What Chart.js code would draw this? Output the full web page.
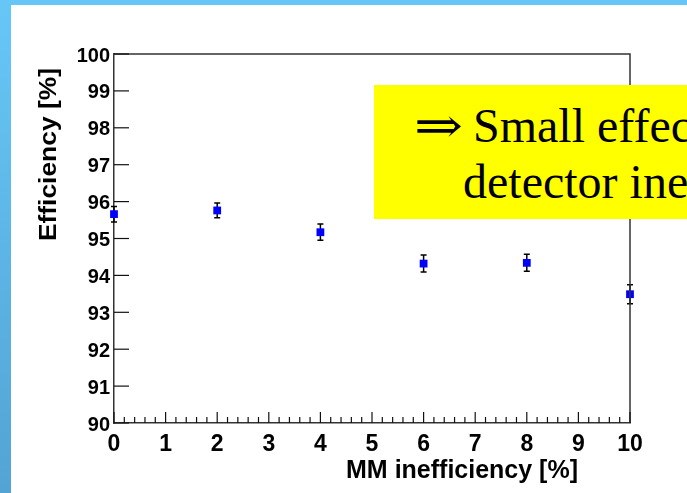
<!DOCTYPE html>
<html>
<head>
<meta charset="utf-8">
<script src="https://cdn.jsdelivr.net/npm/chart.js@4/dist/chart.umd.min.js"></script>
<style>
  html, body { margin: 0; padding: 0; background: #ffffff; overflow: hidden; }
  #wrap { position: relative; width: 687px; height: 493px; }
  #c { position: absolute; left: 0; top: 0; }
  #topbar { position: absolute; left: 0; top: 0; width: 687px; height: 5px; background: #66c7f6; }
  #leftbar { position: absolute; left: 0; top: 0; width: 11px; height: 493px;
             background: linear-gradient(to bottom, #66c7f6, #52a4d4); }
  #note { position: absolute; left: 374px; top: 85px; width: 313px; height: 134px;
          background: #ffff00; overflow: hidden; white-space: nowrap;
          font-family: "Liberation Serif", "DejaVu Serif", serif; font-size: 48px; line-height: 48px; color: #000; }
  #note .arr { position: absolute; left: 40px; top: 17px; display: inline-block; transform: scaleX(1.22); transform-origin: left center; }
  #note .l1 { position: absolute; left: 99px; top: 17px; }
  #note .l2 { position: absolute; left: 89px; top: 73px; }
</style>
</head>
<body>
<div id="wrap">
  <canvas id="c" width="687" height="493"></canvas>
  <div id="topbar"></div>
  <div id="leftbar"></div>
  <div id="note"><span class="arr">⇒</span><span class="l1">Small effec</span><span class="l2">detector ine</span></div>
</div>
<script>
// ---- data ----
const mmInefficiency = [0, 2, 4, 6, 8, 10];
const efficiency     = [95.66, 95.76, 95.17, 94.32, 94.34, 93.49];
const efficiencyErr  = [0.21, 0.20, 0.22, 0.23, 0.23, 0.26];
const xTitle = "MM inefficiency [%]";
const yTitle = "Efficiency [%]";
const xRange = [0, 10];
const yRange = [90, 100];

const points = mmInefficiency.map((x, i) => ({ x: x, y: efficiency[i] }));

const AXIS_COLOR = '#333333';
const FAMILY = 'Liberation Sans, Arial, sans-serif';

const frameAndTicks = {
  id: 'frameAndTicks',
  afterDraw(chart) {
    const ctx = chart.ctx, a = chart.chartArea;
    const xs = chart.scales.x, ys = chart.scales.y;
    ctx.save();
    ctx.strokeStyle = AXIS_COLOR;
    ctx.lineWidth = 1.5;
    ctx.beginPath();
    ctx.moveTo(a.left, a.top); ctx.lineTo(a.right, a.top); ctx.lineTo(a.right, a.bottom);
    ctx.stroke();
    ctx.lineWidth = 1.2;
    ctx.strokeStyle = '#111111';
    ys.ticks.forEach(t => {
      const py = ys.getPixelForValue(t.value);
      ctx.beginPath(); ctx.moveTo(a.left, py); ctx.lineTo(a.left + 15, py); ctx.stroke();
    });
    const xt = xs.ticks.map(t => t.value);
    for (let k = 0; k < xt.length; k++) {
      const px = xs.getPixelForValue(xt[k]);
      ctx.beginPath(); ctx.moveTo(px, a.bottom); ctx.lineTo(px, a.bottom - 11); ctx.stroke();
      if (k < xt.length - 1) {
        const step = (xt[k + 1] - xt[k]) / 5;
        for (let m = 1; m < 5; m++) {
          const mx = xs.getPixelForValue(xt[k] + m * step);
          ctx.beginPath(); ctx.moveTo(mx, a.bottom); ctx.lineTo(mx, a.bottom - 6); ctx.stroke();
        }
      }
    }
    // axis titles
    ctx.fillStyle = '#000';
    ctx.font = 'bold 25px "Liberation Sans", Arial, sans-serif';
    ctx.textAlign = 'right';
    ctx.textBaseline = 'alphabetic';
    ctx.fillText(xTitle, a.right - 52, 478);
    ctx.font = 'bold 24px "Liberation Sans", Arial, sans-serif';
    ctx.translate(56, a.top + 14);
    ctx.rotate(-Math.PI / 2);
    ctx.scale(1.1, 1);
    ctx.fillText(yTitle, 0, 0);
    ctx.restore();
  }
};

const errorBars = {
  id: 'errorBars',
  beforeDatasetsDraw(chart) {
    const ctx = chart.ctx;
    const xs = chart.scales.x, ys = chart.scales.y;
    ctx.save();
    ctx.strokeStyle = '#000';
    ctx.lineWidth = 1.5;
    mmInefficiency.forEach((x, i) => {
      const px = xs.getPixelForValue(x);
      const lo = ys.getPixelForValue(efficiency[i] - efficiencyErr[i]);
      const hi = ys.getPixelForValue(efficiency[i] + efficiencyErr[i]);
      ctx.beginPath();
      ctx.moveTo(px, lo); ctx.lineTo(px, hi);
      ctx.moveTo(px - 3, lo); ctx.lineTo(px + 3, lo);
      ctx.moveTo(px - 3, hi); ctx.lineTo(px + 3, hi);
      ctx.stroke();
    });
    ctx.restore();
  }
};

new Chart(document.getElementById('c'), {
  type: 'scatter',
  data: {
    datasets: [{
      label: yTitle,
      data: points,
      pointStyle: 'rect',
      pointRadius: 5.5,
      pointHoverRadius: 5.5,
      backgroundColor: '#0000ff',
      borderColor: '#0000ff',
      borderWidth: 0,
      clip: false
    }]
  },
  options: {
    responsive: false,
    animation: false,
    events: [],
    layout: { padding: { left: 0, top: 54, right: 57, bottom: 0 } },
    plugins: { legend: { display: false }, tooltip: { enabled: false } },
    scales: {
      x: {
        type: 'linear',
        min: xRange[0], max: xRange[1],
        ticks: { stepSize: 1, font: { family: FAMILY, size: 23, weight: 'bold' }, color: '#000', padding: 8, maxRotation: 0, autoSkip: false },
        grid: { display: false, drawTicks: false },
        border: { display: true, color: AXIS_COLOR, width: 1.5 },
        afterFit(s) { s.height = 70; }
      },
      y: {
        type: 'linear',
        min: yRange[0], max: yRange[1],
        ticks: { stepSize: 1, font: { family: FAMILY, size: 20, weight: 'bold' }, color: '#000', padding: 4, labelOffset: 2 },
        grid: { display: false, drawTicks: false },
        border: { display: true, color: AXIS_COLOR, width: 1.5 },
        afterFit(s) { s.width = 114; }
      }
    }
  },
  plugins: [errorBars, frameAndTicks]
});
</script>
</body>
</html>
